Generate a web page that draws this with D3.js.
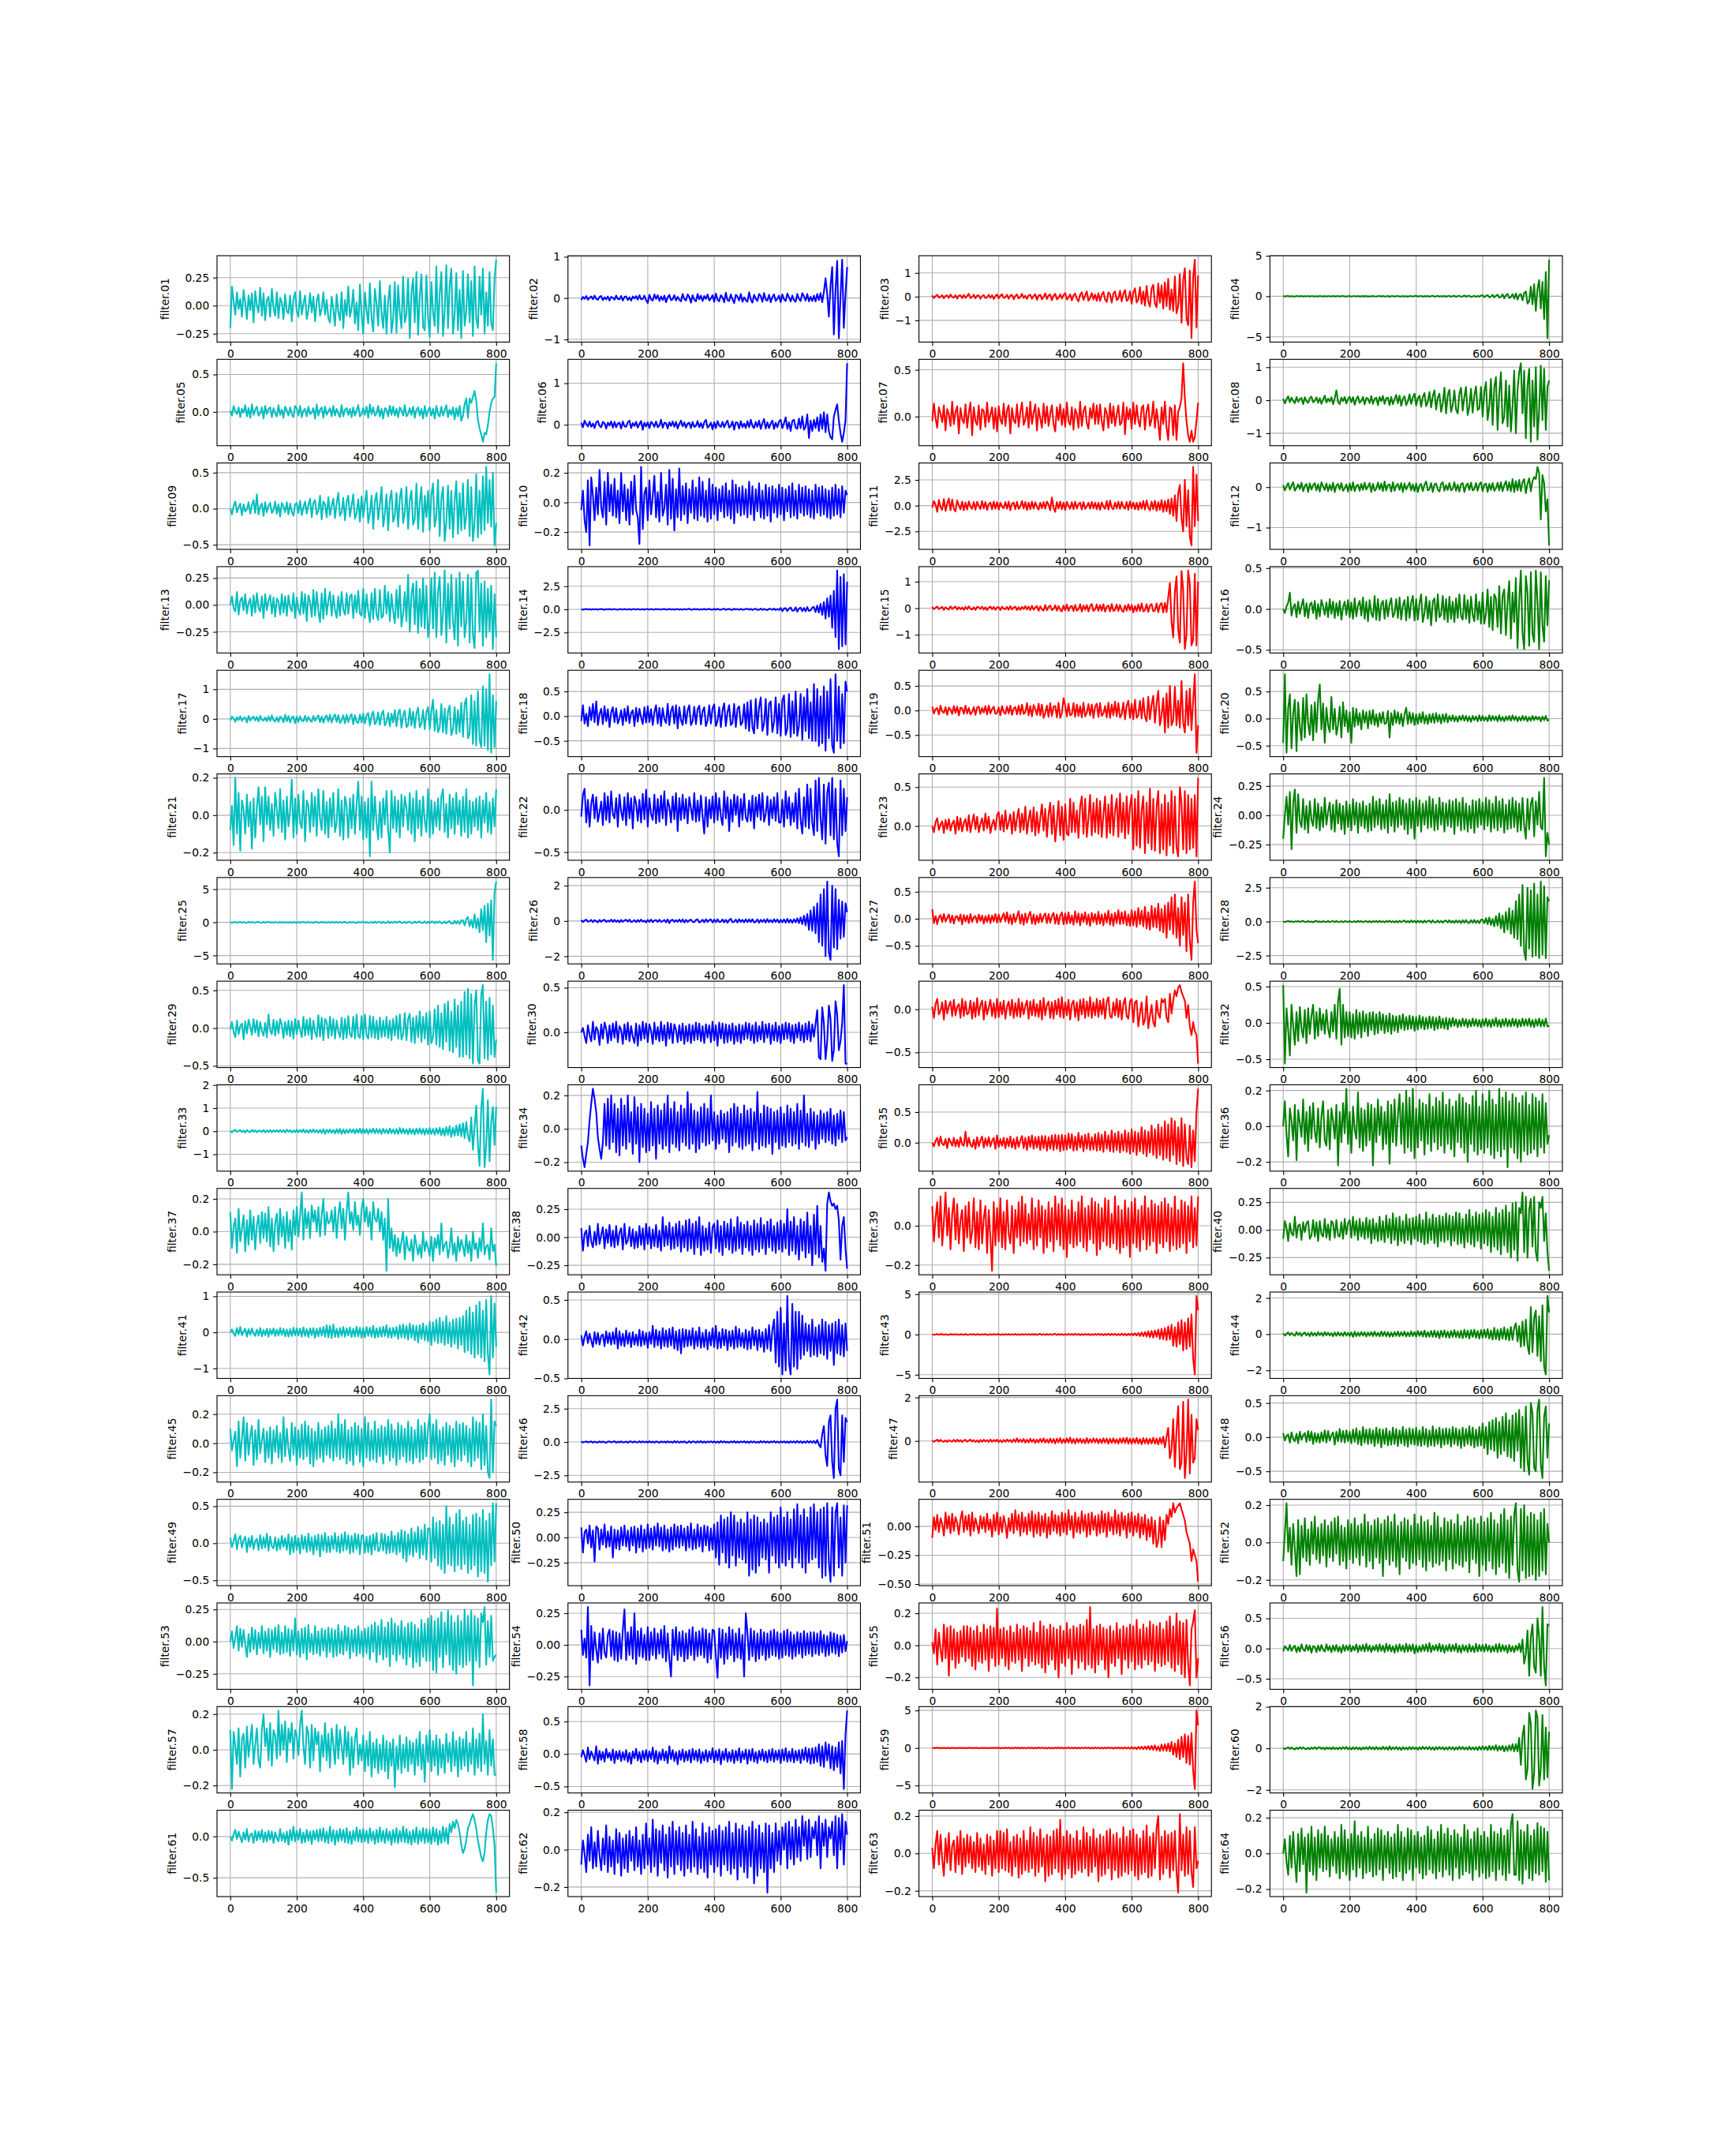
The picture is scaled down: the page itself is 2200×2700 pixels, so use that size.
<!DOCTYPE html>
<html><head><meta charset="utf-8">
<script src="https://cdn.jsdelivr.net/npm/d3@7"></script>
<style>body{margin:0;background:#fff}</style>
</head><body><svg id="c"></svg>
<script>
// Values, in hundredths, one every 5 steps of the index (0..800)
const UNIT = 0.01;
const STEP = 5;
const xTicks = [0, 200, 400, 600, 800];
const colors = ["#00bfbf", "#0000ff", "#ff0000", "#008000"]; // by column

const f01=[-20,17,4,-8,12,-3,6,-10,14,2,-12,9,-4,11,-15,13,0,-6,16,-9,11,-13,5,8,-10,15,-2,-9,12,-11,7,3,-12,10,-5,-7,9,-14,6,12,-5,-10,13,-8,2,9,-12,-4,11,-6,8,-14,4,10,-9,-3,12,-8,5,-11,-15,8,-3,-18,10,-6,-13,12,-20,5,-9,17,-10,-2,14,-16,3,-22,19,-8,-25,12,-4,-16,20,-11,-23,15,2,-18,22,-7,-20,9,-25,4,18,-24,-12,21,-24,18,-6,-20,26,-15,-8,24,-29,12,24,-15,30,-26,8,28,-19,-22,27,-10,-28,21,-6,-18,35,-24,10,30,-27,-5,36,-20,18,33,-25,-8,29,-22,14,-29,31,-18,-6,28,-15,22,-27,35,-12,-20,26,-8,33,-25,12,-18,30,-16,-22,24,41];
const f02=[-5,3,-2,5,-4,1,4,-3,6,-2,-4,3,5,-5,2,-3,4,-6,3,1,-4,6,-2,-3,5,-6,3,4,-5,2,-6,4,-1,5,-4,7,-3,-2,6,-5,-12,8,-3,-6,9,-2,7,-7,4,-5,6,-10,2,8,-5,-3,7,-6,3,-4,-8,10,-2,-6,9,3,-11,7,-4,-8,10,-3,6,-7,5,-2,9,-6,-1,7,-9,11,-4,-8,7,2,-10,13,-5,-7,9,-3,-12,8,4,-6,10,-9,2,-5,-9,14,-3,-11,8,-2,-7,10,5,-9,12,-4,-6,8,-10,3,9,-7,-2,6,-10,9,-3,-7,11,2,-8,6,-5,-9,10,-2,-7,12,4,-6,10,-8,3,-7,6,-8,10,-5,12,-10,15,48,10,-45,30,75,-88,20,90,-97,5,93,-72,10,75];
const f03=[5,-6,2,8,-4,-1,6,-7,3,5,-5,9,-2,-4,6,-8,4,5,-6,7,-5,3,12,-6,-2,8,-7,4,5,-9,2,7,-6,-3,8,-5,6,-10,3,9,-7,4,10,-6,-3,8,-9,5,7,-11,3,9,-8,-2,12,-6,4,-10,6,8,-9,3,10,-13,5,8,-12,-2,14,-10,6,9,-15,3,12,-11,-5,10,-8,7,15,-12,-4,10,-16,6,13,-9,-20,8,18,-14,5,22,-17,-6,15,-12,9,-18,15,-18,8,20,-12,-22,18,10,-25,14,22,-15,-8,25,-20,12,28,-18,-10,22,-30,18,35,-25,-12,40,-30,22,-38,45,-20,-42,35,50,-30,-45,55,-25,48,-50,60,-40,75,-55,30,-60,85,-70,-40,95,-110,70,120,-90,-120,110,-175,80,156,-130,90];
const f04=[3,-2,1,4,-3,2,-1,-4,3,1,-2,4,-3,2,-1,3,-4,2,1,-3,2,-3,4,-1,-2,3,-4,2,1,-3,4,-2,-1,3,-3,2,5,-2,-3,2,3,-4,1,2,-3,4,-2,-1,3,-2,4,-5,2,-3,3,-1,-4,2,4,-3,5,-3,-1,4,-6,2,3,-4,1,5,-3,-2,4,-3,2,-5,3,1,-4,3,7,-4,2,5,-6,3,-2,4,-5,1,6,-4,-2,8,-5,3,-3,5,-6,2,6,-7,3,5,-8,2,6,-5,-3,10,-6,4,7,-8,-2,6,-7,4,-5,8,12,-10,5,15,-12,-4,18,-14,8,20,-16,-8,25,-25,12,30,-22,-10,28,-30,35,-40,15,28,-50,40,60,-90,-60,120,-100,150,-180,90,200,-150,180,-280,300,-516,452];
const f05=[2,-5,8,1,-3,6,-7,4,-1,9,-6,5,-8,10,-4,3,7,-5,-2,6,-9,8,-3,4,6,-7,5,-2,-6,9,-4,3,-8,7,2,-5,6,-3,-7,8,5,-5,8,-7,2,4,-6,7,-3,-1,5,-9,10,-5,3,6,-8,7,-4,1,5,-6,8,-5,4,-2,-7,9,-6,3,5,-4,4,-7,6,-5,2,9,-6,-3,5,-4,7,-8,10,-3,6,-5,-2,8,-6,4,-9,5,3,-6,8,-4,7,-5,4,-7,6,2,-5,9,-6,-3,5,-4,7,-8,3,6,-5,4,-9,8,-6,2,6,-5,4,-9,8,-3,-6,7,-5,2,9,-7,3,-4,6,-10,5,-6,8,-12,-5,10,18,-8,18,12,20,28,15,-10,-22,-30,-40,-28,-30,-18,0,12,18,20,65];
const f06=[5,-6,10,2,-4,8,-5,3,-8,6,9,-3,-6,7,4,-9,5,-2,8,-7,7,-6,3,5,-9,8,-4,-5,6,10,-8,4,-3,7,-7,2,9,-12,5,-4,6,-8,7,3,-5,8,-6,-2,12,-7,5,4,-9,6,-3,8,-5,7,-9,2,10,-4,6,-7,3,5,-8,7,-5,-3,9,-6,4,-8,6,12,-7,-3,5,-11,6,-8,9,-2,-5,7,-6,4,10,-7,-3,8,-12,6,5,-9,9,-6,3,-8,9,-6,12,-3,-8,7,-5,10,-10,4,14,-9,6,-8,3,10,-10,5,-6,8,12,-8,4,18,-10,6,-15,9,12,-7,-10,15,-8,20,-12,-5,25,-32,10,-15,12,-8,18,-15,25,-10,30,-18,25,-15,-30,-35,20,35,49,10,-20,-41,-20,10,148];
const f07=[-5,14,-2,-12,10,3,-6,12,-15,8,2,-10,16,-8,5,11,-18,9,-3,-7,13,-12,4,15,-20,10,-5,-9,12,-14,8,6,-11,15,-6,2,10,-13,9,-16,11,-3,-8,14,-10,7,12,-18,9,-4,-7,13,-11,5,15,-9,-3,10,-12,16,-8,4,13,-15,9,-2,-12,14,-7,11,-10,3,12,-8,-16,10,-4,13,-9,8,-11,15,-5,-9,10,-14,8,3,-12,16,-10,6,11,-7,-13,9,-2,14,-8,12,-8,13,-5,-15,9,4,-12,14,-7,11,-10,2,12,-9,-6,15,-19,10,-3,8,-13,15,-8,12,-4,-11,9,12,-14,6,13,-10,-3,16,-12,8,-6,-25,10,-8,16,-12,-25,10,8,-20,12,-25,5,10,20,57,20,-5,-20,-27,-15,-27,-22,-5,15];
const f08=[5,-10,3,12,-6,8,-2,-9,10,-5,4,7,-12,9,-3,-8,6,11,-6,-2,9,-8,6,-11,2,14,-7,5,-4,9,-12,6,30,-5,-12,8,-3,10,-10,4,11,-6,9,-14,3,12,-8,-2,10,-13,7,5,-9,13,-11,4,8,-15,10,-3,13,-11,6,8,-15,10,-12,3,16,-9,14,-17,5,12,-15,-4,18,-11,8,20,-16,6,14,-20,10,22,-18,-5,25,-22,12,30,-28,8,20,-35,-10,38,-40,15,32,-35,-15,30,-28,-40,20,38,-32,10,40,-45,-20,35,-38,15,42,-30,-25,40,-50,25,55,-60,-20,65,-75,40,70,-90,20,85,-70,-50,60,-80,45,-95,-20,90,-100,30,85,112,-40,90,-115,45,95,-126,60,-80,100,-120,-30,105,-60,95,-90,40,60];
const f09=[0,-8,4,10,-5,2,7,-9,6,-4,-1,9,-7,5,12,-6,20,-8,3,7,-10,9,-5,4,8,-6,-2,10,-7,6,-11,8,3,-5,9,-8,7,-4,-10,6,8,-6,11,-9,2,10,-7,5,14,-12,8,12,-8,-3,18,-15,10,6,-12,16,-9,4,14,-13,7,22,-10,-5,15,-16,9,18,-11,4,20,-14,-6,13,-18,17,-12,8,25,-20,-6,18,-28,10,22,-15,5,30,-25,-8,20,-30,12,25,-18,-10,22,-25,15,28,-20,-5,30,-28,12,25,-22,-15,35,-28,8,30,-32,18,-12,25,-30,20,35,-25,-10,40,-38,15,30,-45,-20,32,-28,25,-40,10,38,-35,22,-30,35,-28,-10,40,-38,30,-45,-20,48,-40,25,-35,45,-30,58,-20,40,-25,50,-51,-20];
const f10=[-5,8,-12,-20,15,-29,17,5,-12,10,-8,22,-3,-10,14,-15,20,-6,12,-9,16,-10,8,-14,20,-6,12,-12,9,-15,14,-8,18,-5,-10,-28,24,-18,6,10,-12,15,-8,4,18,-10,7,-13,20,-9,-4,12,-15,22,-11,16,-19,9,-10,23,-12,11,-8,13,-14,9,-7,15,-11,10,-12,17,-9,14,-10,8,-13,16,-11,12,-8,10,-12,9,-6,11,-10,13,-9,8,-11,15,-14,12,-7,10,-9,11,-8,9,-10,14,-8,11,-12,9,-6,13,-10,8,-11,12,-9,10,-13,11,-7,9,-10,12,-8,10,-12,9,-6,11,-10,13,-9,8,-11,12,-7,10,-9,11,-8,9,-10,8,-11,12,-7,10,-9,11,-8,9,-10,8,-11,10,-9,12,-8,9,-10,11,-7,8,5];
const f11=[-20,45,10,-60,55,-15,-40,65,-50,20,70,-45,60,-30,-55,50,5,-35,40,-45,30,-38,42,-10,-30,35,-40,38,-5,-32,45,-28,36,-42,15,30,-35,40,-30,33,-38,28,-10,-25,35,-30,40,-45,20,30,-35,38,-32,-8,45,-28,36,-42,30,-35,40,-30,33,-12,-38,28,-25,35,-30,40,10,-45,80,-20,-60,35,-28,40,-35,30,-42,38,-5,-30,33,-35,40,-28,15,30,-38,35,-32,-8,28,-30,36,-25,30,-35,28,-40,32,-10,-30,45,-38,50,-20,-35,30,-28,40,-32,38,-15,-30,35,-40,42,-25,30,-35,28,-40,32,-30,45,-38,50,-20,-45,40,-35,48,-50,35,-40,55,-60,45,-55,60,-80,70,-100,100,-150,120,200,-120,-250,250,-200,150,-300,-386,376,-200,300,-150];
const f12=[5,-8,2,10,-6,4,12,-9,-2,7,-5,11,-10,3,8,-12,9,-6,5,10,-8,7,-11,12,2,-7,9,-10,6,-8,11,-12,4,8,-6,10,-9,-3,7,-11,9,-8,12,-10,3,6,-9,8,-7,11,-6,2,10,-12,8,-9,-4,11,-6,9,-10,14,-8,5,7,-11,12,-9,4,8,-7,10,-12,9,-6,3,11,-8,7,-10,9,-12,4,8,-10,6,14,-8,-5,10,-12,7,9,-6,-11,8,12,-9,5,-7,10,-8,-4,12,-9,6,-11,8,10,-12,3,9,-7,11,-8,-5,10,-9,7,12,-10,6,9,-12,8,-7,10,-9,-3,11,-8,12,-10,5,15,-8,12,-10,20,-12,15,-8,18,-10,12,20,-15,8,22,-10,15,25,20,50,35,-80,30,10,-60,-30,-144];
const f13=[0,8,-3,-6,12,-9,4,7,-5,10,-8,2,6,-10,9,-7,11,-3,-6,8,-12,10,-5,4,9,-8,7,-11,6,3,-9,10,-7,8,-10,9,-2,-6,11,-12,7,-4,-9,12,-8,10,-15,9,3,-11,14,-10,12,-6,-16,11,-13,15,-9,4,12,-10,9,-5,-12,8,-10,12,-4,-9,11,-8,8,10,-12,9,-7,13,-8,-10,15,-12,10,-6,-16,11,-13,15,-9,-14,14,-12,-10,18,-8,12,-15,10,-6,-17,14,-12,18,-20,-8,12,-15,28,-25,10,20,-18,22,-26,15,-20,25,-22,18,-30,-15,25,-22,30,-30,12,26,-28,-8,32,-35,20,-22,28,-15,-32,24,-38,30,-20,22,-30,-15,28,-35,25,-28,-40,30,32,-25,20,-38,22,-30,15,-25,18,-41,10,-30];
const f14=[2,-3,1,4,-2,3,-4,2,-1,3,-3,2,4,-2,-3,3,-2,4,-3,1,3,-2,-4,3,2,-3,4,-2,-1,3,-4,2,3,-3,4,-2,-2,3,-4,2,3,-3,4,-2,-3,5,-2,3,-4,2,4,-3,-2,5,-3,2,-4,3,3,-4,3,-5,4,-3,2,6,-4,-3,5,-2,4,-5,3,-3,6,-4,2,5,-3,-3,5,-4,6,-3,-5,4,6,-6,3,5,-4,-5,7,-3,4,-5,6,-4,-3,5,6,-4,5,-7,3,6,-5,-4,8,-6,5,-3,-7,6,4,-5,8,-7,3,-6,15,-20,10,12,-18,8,20,-15,-12,22,-25,10,18,-20,15,-22,25,-18,-10,20,25,-30,40,-35,60,-60,80,-100,120,-80,150,-200,200,-300,420,-430,350,-400,380,-380,300];
const f15=[5,-4,2,6,-3,1,5,-6,4,-2,-5,7,-3,2,6,-5,4,-4,3,-6,5,-4,7,-2,-5,4,-6,5,3,-3,6,-5,4,-7,2,6,-4,5,-6,3,4,-7,6,-2,-4,5,-6,8,-5,3,6,-7,4,-6,5,-3,8,-5,6,-7,9,-6,3,8,-10,7,-4,-9,12,-8,5,10,-7,-3,11,-9,8,-6,-12,10,-8,14,-10,5,9,-11,12,-9,-4,15,-13,10,-6,12,-12,8,16,-11,-5,14,-10,12,-9,15,-13,6,10,-12,16,-11,-6,14,-10,12,-8,-14,10,-9,15,-7,12,-16,8,-11,14,-10,18,-12,-8,15,-14,10,16,-12,-9,18,-15,12,20,-16,20,-15,40,95,-50,-110,60,120,-80,-130,140,70,-154,-100,142,90,-140,-120,130,-140,100];
const f16=[0,-5,3,8,20,-8,2,6,-10,9,-6,4,12,-9,7,-11,5,8,-5,10,-12,6,-9,11,3,-7,8,-10,12,-6,9,-11,7,-8,10,-13,2,9,-7,11,-10,8,-12,13,-9,4,10,-8,14,-12,9,-15,11,-5,-10,16,-13,12,-14,6,10,-12,11,-9,6,13,-10,-5,12,-11,14,-13,4,11,-14,15,-11,8,16,-14,12,-13,7,18,-16,-5,15,-12,10,-20,9,13,-15,18,-10,-7,16,-13,12,-16,15,-12,9,-16,13,-11,18,-9,-13,17,-12,11,-17,15,-7,-15,18,-13,9,-18,20,-18,-6,24,-22,15,-26,18,13,-22,28,-30,16,24,-32,8,34,-36,20,-16,38,-48,10,47,-30,-49,40,20,-45,45,-30,-40,47,10,-49,45,-20,-40,40,-20,35];
const f17=[-5,8,2,-10,6,-4,9,-7,3,5,-12,10,-6,4,8,-5,7,-9,10,-3,-6,5,-8,9,-7,12,-4,-9,6,-10,8,3,-11,14,-8,10,-12,5,9,-15,8,-10,9,-6,-8,11,-9,7,-5,-10,10,-7,6,12,-11,8,-13,5,12,-9,14,-12,6,15,-10,13,-14,-5,12,-15,14,-11,8,16,-18,12,-9,-14,15,-12,18,-15,12,20,-22,10,25,-18,-8,22,-20,15,28,-22,-10,20,-25,18,-12,30,-25,20,32,-30,12,28,-28,-20,35,-22,25,-30,18,38,-28,-15,30,-35,22,40,-35,25,65,-40,30,-45,-30,50,-45,35,-50,25,45,-55,-35,40,-50,30,-45,55,-60,50,70,-65,-50,80,-85,60,-90,95,-70,-95,110,-90,100,-105,151,-114,80,-95,60];
const f18=[-10,22,-15,5,-20,18,-8,25,-12,30,-18,4,15,-16,20,-10,14,-22,8,18,-12,16,-15,-5,12,-18,15,-10,20,-14,6,12,-20,17,-11,15,-3,-16,18,-13,20,-12,14,-18,8,22,-15,17,-20,16,-6,-14,25,-18,10,20,-15,22,-25,18,-8,-18,20,-15,12,22,-18,-10,19,-16,14,21,-17,10,18,-20,-9,22,-15,16,24,-20,-10,18,-22,12,26,-20,8,22,-18,-14,25,-22,15,20,-18,-12,24,-25,28,-30,32,-22,-35,35,-25,18,38,-30,-15,35,-38,25,30,-32,-12,38,-35,25,-40,32,42,-38,-25,45,-42,30,-35,50,-40,-20,45,-48,38,-30,55,-45,28,-50,65,-50,55,-60,40,-55,60,-70,50,-45,75,-60,-74,85,-50,60,-65,45,-55,70,50];
const f19=[8,-6,3,5,-8,10,-2,-5,7,-9,6,2,-7,9,-5,8,-10,6,4,-7,10,-6,5,-8,-3,7,-9,6,8,-7,5,-4,9,-8,10,-6,3,8,-7,-5,6,-10,9,-3,-7,8,-6,10,-9,4,7,-8,10,-8,12,-7,-4,15,-10,9,-12,11,3,-9,14,-10,12,-15,-5,10,-13,15,-11,8,9,-14,16,-15,-6,25,10,-12,14,-10,-8,15,-13,12,-11,9,-14,16,-12,-5,13,-10,12,-15,8,14,-13,15,-11,-6,9,-14,16,-15,12,-10,18,-12,15,-14,-8,16,-18,10,20,-15,14,-18,22,-15,-10,20,-16,25,-12,-22,28,-18,12,30,-25,15,40,-30,-10,25,-45,35,-35,50,-30,-20,48,-30,20,-35,60,-25,-45,40,-30,45,-40,20,74,-86,-30];
const f20=[-45,82,-63,20,45,-55,10,35,-60,30,-15,-40,38,-35,45,-10,-30,25,-40,30,-25,35,63,-20,28,-45,20,-12,-25,40,-20,18,-30,-12,22,-35,30,-14,15,-25,12,-45,20,-15,18,-12,10,-20,15,-8,12,-18,14,-10,16,-12,8,-15,10,-8,12,-10,-8,14,-35,10,-12,15,-8,12,-10,9,-14,8,20,-10,12,-8,10,-12,8,-10,9,-7,12,-9,6,-10,8,-7,9,-8,10,-6,7,-9,8,-6,9,-7,5,-4,6,-5,4,-6,5,-3,6,-4,5,-5,4,-6,5,-3,4,-5,6,-4,5,-4,3,-5,6,-4,5,-3,4,-5,6,-4,3,-5,4,-3,5,-4,6,-3,4,-5,3,-4,5,-3,4,-5,3,-4,5,-3,4,-2,3,-5,4,-3,5,-4,-2];
const f21=[-8,5,-16,20,-10,12,-19,8,3,-10,11,-6,7,-18,9,-12,4,15,-5,10,-14,15,-5,10,-8,6,-11,12,3,-7,14,-9,8,-13,10,-6,2,19,-12,9,-10,11,-4,-7,13,-14,8,5,-9,12,-6,10,-11,14,-2,-8,13,-10,7,-12,9,-6,12,-9,-4,14,-11,8,-13,10,5,-12,9,-7,11,-10,6,18,-8,10,-13,7,-12,9,-22,18,-8,10,-4,-13,7,-12,9,-5,13,-8,-20,13,-7,10,-9,8,-12,11,-6,10,4,-8,12,-10,9,-14,13,-7,8,-11,10,-3,-9,14,-12,8,-10,7,-6,9,-8,10,14,-9,6,-12,11,-7,9,-10,12,-5,8,-11,10,-9,14,-12,8,-10,7,-6,9,-8,10,-12,8,-4,12,-9,7,-10,9,-6,14];
const f22=[-8,18,25,-15,12,-20,8,18,-10,15,-14,-3,10,-18,20,-12,16,-15,22,-5,-10,14,-20,18,-2,-12,15,-18,20,-10,14,-22,16,8,-13,12,-15,19,-11,24,-20,14,-5,-12,18,-16,13,-14,17,-10,22,-18,12,4,-15,16,-11,20,-25,14,-12,18,-10,13,-16,15,2,-12,20,-14,11,-13,17,-8,-28,15,-20,12,-10,16,-15,20,-12,14,-8,-18,22,-10,15,-25,12,-14,18,-6,16,-20,13,-12,19,-9,-14,11,-13,17,-22,15,-8,18,-12,20,-14,-5,16,-18,12,-10,15,-13,20,-15,-15,12,-20,22,-10,15,-18,8,-14,20,-22,25,-12,-28,15,-20,30,-22,25,-15,-30,35,-25,38,-10,-35,30,-40,20,32,-30,38,-35,25,-40,-55,35,-30,25,-25,15];
const f23=[0,-8,5,10,-5,2,6,-9,8,-4,9,-6,3,7,-10,12,-5,10,-7,4,9,-6,14,-8,5,15,-4,12,-8,3,10,-6,16,-3,12,-9,2,8,-5,14,18,-5,14,-7,20,-4,5,15,-10,18,-6,10,22,-8,16,-5,25,-10,8,20,-7,24,-12,18,-9,10,28,-6,22,-14,15,30,-10,26,-20,5,32,-12,25,-18,28,-10,-12,35,-8,30,-8,20,-15,25,38,-10,35,-14,10,40,-12,30,-8,35,-10,32,-14,15,38,-15,28,-9,40,-12,20,35,-14,42,-8,30,-16,38,-10,25,40,-30,35,-25,45,-28,20,38,-35,30,-22,48,-30,35,-32,25,45,-35,28,-30,40,-38,30,-25,45,-35,38,-28,-39,50,30,-30,45,-35,40,-30,35,-28,40,-39,62];
const f24=[-20,0,16,-8,20,-29,10,22,-15,18,-5,-10,14,-12,8,-15,12,-4,-9,14,-11,10,-13,7,-10,15,-8,3,11,-12,9,-14,13,-7,10,-12,8,-16,12,-10,9,-13,14,-8,11,-15,10,-9,12,-11,8,-14,10,-13,16,-10,12,-8,14,-12,9,-11,13,-15,18,-9,11,-14,12,-10,15,-8,13,-12,10,-16,14,-11,12,-20,15,-9,13,-14,10,-8,12,-11,16,-10,14,-13,9,-12,15,-8,11,-14,10,-9,13,-10,12,-16,14,-9,11,-13,15,-12,10,-14,8,-11,13,-15,12,-10,14,-8,11,-12,15,-9,13,-14,10,-11,16,-13,12,-10,14,-15,9,-12,13,-11,15,-10,12,-14,10,-13,15,-9,-20,14,-12,10,15,-18,12,-8,20,-10,-12,32,-35,-15,-25];
const f25=[5,-8,3,6,-5,2,7,-6,4,-3,-7,8,-5,6,-2,-7,5,8,-4,-6,7,-5,3,8,-6,4,-7,6,-2,-5,8,-6,5,-4,3,-8,7,-6,5,2,-7,6,-8,5,7,-5,-3,9,-6,5,-7,4,8,-6,-4,7,-5,6,-9,8,-7,5,3,-6,9,-7,6,-8,4,7,-6,-5,8,-7,6,-4,-9,8,-6,5,10,-8,7,-9,-3,8,-10,12,-9,5,10,-12,8,-11,-6,15,-14,9,-8,12,-10,8,12,-9,-7,10,-12,8,11,-10,-8,13,-11,9,12,-10,-7,14,-12,10,-14,12,10,-15,13,-9,15,-12,-10,14,-16,12,18,-15,-20,25,-18,20,-25,30,30,-45,50,80,-60,40,-80,120,-90,60,-150,200,-120,250,-300,280,-200,330,-568,450,617];
const f26=[5,-6,3,8,-4,-2,6,-7,5,-1,-8,6,-5,4,7,-6,2,-4,8,-6,7,-6,4,-8,6,-5,3,7,-4,8,-6,-3,5,-7,6,-5,8,-4,2,-8,6,-5,8,-7,3,5,-6,7,-5,-2,6,-8,9,-12,4,7,-6,5,-5,8,-6,9,-9,7,-6,4,8,-5,-7,6,9,-9,-3,7,-8,10,-6,5,9,-9,8,-7,10,-6,-4,9,-8,7,-10,6,12,-7,-5,8,-9,10,-6,7,-8,10,-7,9,-6,10,-8,-5,9,-10,7,-6,8,-9,11,-7,6,-8,10,-6,9,-10,7,-8,9,-10,12,-9,8,-11,10,-8,15,-12,20,-18,30,-25,40,-50,60,-55,80,-70,100,-120,150,-140,180,-200,224,-180,-221,200,-150,180,-160,120,-100,110,-90,100,50];
const f27=[18,-8,5,-10,3,7,-6,9,-5,2,8,-7,6,-9,4,5,-4,8,-10,7,-5,6,-8,9,-6,3,5,-7,8,-4,6,-9,5,-6,7,-8,6,-5,9,-7,8,-6,3,10,-5,12,-8,7,-10,9,-6,4,14,-9,8,-11,10,-7,6,13,-9,8,-10,6,-7,9,-6,5,10,-8,9,-7,5,11,-9,8,-10,6,12,-10,10,-9,12,-8,6,-11,14,-7,10,-12,9,-6,12,-10,8,-13,11,-6,9,-10,13,-9,8,-12,10,-7,15,-11,9,-13,11,-8,16,-10,12,-9,14,-12,8,-13,16,-12,14,-15,20,-10,15,-14,22,-18,12,-20,24,-15,20,-16,28,-22,18,-25,25,-35,30,-20,40,-28,45,-35,20,-50,40,-30,30,-60,45,-40,-76,30,69,-20,-45];
const f28=[3,-4,1,5,-2,3,-4,2,-1,4,-3,2,5,-3,-2,4,-3,1,-5,3,4,-3,2,-5,4,-1,-3,5,-4,2,3,-4,5,-2,-3,4,-5,3,2,-4,5,-3,-2,4,-5,6,-3,4,-5,2,3,-4,5,-6,4,-3,5,-4,6,-5,4,-6,5,-3,7,-5,4,-6,5,-7,6,-4,3,8,-6,5,-7,9,-5,6,-8,7,-5,6,-9,8,-6,5,7,-8,9,-6,-5,8,-7,6,-9,5,8,-7,10,-8,6,-10,9,-7,8,-11,10,-9,12,-8,-10,11,-9,12,-10,8,-12,14,15,-12,25,-20,30,-25,20,-35,40,-30,60,-50,45,-80,70,-60,100,-90,80,-120,150,-130,200,-180,270,-220,-283,250,-200,230,-260,280,-250,200,-270,296,-240,260,-270,180,150];
const f29=[-2,8,-5,-12,10,-8,3,6,-15,9,-7,11,2,-9,12,-6,10,-11,8,-4,-10,7,-12,18,-3,-8,11,-10,9,-7,12,4,-13,8,-9,10,-11,9,-14,12,-8,10,-3,-12,15,-10,11,-9,13,-15,10,-5,-12,17,-11,14,-16,12,8,-13,15,-10,12,-14,10,-4,-12,14,-15,12,-13,16,-8,-12,15,-14,18,-10,-13,16,-15,18,-10,-14,16,-12,15,-13,10,-15,14,-12,10,-11,15,-13,10,-16,12,-10,16,-14,18,-15,-8,20,-16,12,19,-18,14,-20,16,-12,22,-18,15,-14,20,-22,22,-20,-12,25,-22,30,-25,20,-28,32,-18,35,-30,22,-32,38,-25,30,-38,35,-38,48,-35,52,-40,45,-47,30,50,-42,-47,45,57,-40,35,-42,40,-35,30,-38,-15];
const f30=[0,5,-4,-12,8,-3,-10,12,-8,6,2,-14,9,-7,11,4,-12,8,-9,10,-6,12,-11,7,3,-13,9,-8,11,-10,7,-5,-12,10,-15,8,-9,12,-7,10,-11,9,2,-13,11,-8,6,-10,12,-9,8,-15,11,-7,10,-12,9,3,-11,8,-9,10,-13,7,-10,9,-12,8,-9,11,-8,10,-10,7,-12,9,-6,8,-11,12,-9,8,-15,11,-7,10,-12,9,-11,8,-9,10,-13,7,-10,9,-12,8,-8,11,-7,10,-9,8,-12,11,-10,7,-8,12,-11,9,-6,10,-13,8,-9,11,-10,7,-12,9,-8,11,-7,10,-10,8,-12,9,-6,11,-9,8,-11,10,-8,12,-10,9,-5,10,25,-28,-30,28,10,-30,-10,30,15,-32,-20,35,20,-20,-10,10,53,-35,-35];
const f31=[3,-10,6,12,-6,-2,8,-12,10,-5,4,9,-8,11,-7,3,6,-10,12,-8,9,-6,-4,10,-11,8,-9,13,-7,5,10,-12,9,-6,2,11,-8,7,-10,12,-9,8,-6,10,-11,3,9,-7,11,-10,7,-8,12,-9,8,-6,4,10,-11,9,-7,11,-8,6,-9,10,-12,13,-7,5,9,-10,8,-11,10,-6,12,-9,14,-10,8,-7,11,-12,6,10,-9,8,-13,11,-6,12,-10,9,-8,14,-10,8,-7,12,-9,10,-6,12,-11,9,14,-8,-10,8,-7,12,-9,10,-12,6,13,-8,-11,9,12,-15,8,10,-20,-5,8,-18,-12,15,-22,-8,5,-15,-20,10,-5,-10,12,8,12,-10,-15,18,-5,10,22,15,25,28,20,15,10,-10,5,-20,-30,-15,-25,-30,-63];
const f32=[52,-56,20,-10,-45,25,-5,-30,15,-25,22,-8,-20,18,-28,20,-15,10,25,-22,15,-18,20,-10,12,-15,18,-8,-20,15,-12,25,-22,30,47,-30,25,-20,15,-18,15,-20,12,-22,18,-15,14,-20,16,-12,12,-18,14,-10,15,-16,12,-14,15,-10,12,-14,10,-12,13,-15,10,-11,9,-13,10,-8,12,-10,8,-9,10,-8,9,-11,8,-9,10,-7,8,-9,7,-8,9,-7,8,-10,7,-8,9,-7,6,-8,7,-9,6,-5,7,-4,5,-6,4,-5,6,-4,5,-6,4,-5,6,-4,5,-5,4,-6,5,-4,6,-5,4,-6,5,-4,7,-5,4,-6,5,-4,6,-5,4,-5,6,-4,5,-6,4,-5,6,-4,5,-4,6,-5,4,-6,5,-4,6,-5,4,-5,6,-5,-4];
const f33=[2,-5,3,6,-3,1,5,-4,3,-6,5,-2,-4,6,-3,4,-5,3,2,-4,6,-5,3,-4,6,-5,4,-3,5,-4,6,-4,5,-6,7,-3,5,-6,4,-5,7,-5,6,-4,8,-6,5,-7,6,-5,8,-6,5,-7,6,-8,9,-12,7,-6,8,-7,6,-10,9,-8,10,-12,8,-10,7,-8,9,-6,8,-10,9,-7,11,-9,10,-8,9,-11,8,-7,12,-9,10,-8,9,-12,11,-8,7,-10,12,-9,8,-11,10,-12,14,-9,11,-10,8,-13,12,-11,9,-14,12,-10,13,-12,10,-15,11,-12,14,-12,10,-15,13,-11,15,-18,12,-20,18,-15,22,-25,15,-20,25,-18,30,-22,35,-30,40,-20,-45,60,-80,20,110,-60,-150,100,184,-156,-60,135,-130,40,105,-60,105];
const f34=[-10,-18,-23,-15,-8,5,15,24,18,10,-5,-12,-18,-8,15,-10,18,-12,20,-8,15,-14,12,-16,18,-10,14,-12,20,-8,10,-15,19,-9,13,-20,15,-11,12,-14,9,-13,16,-10,12,-18,14,-9,11,-12,15,-10,20,-14,12,-9,16,-11,10,-13,14,-8,12,-10,22,-12,15,-9,11,-14,10,-12,13,-8,15,-10,12,-9,20,-7,10,-12,8,-9,11,-6,9,-8,10,-14,12,-10,15,-8,13,-11,9,-12,14,-10,11,-9,12,-13,10,-8,22,-12,9,-10,14,-11,13,-9,12,-15,10,-8,11,-12,13,-10,9,-11,14,-8,12,-10,10,-9,15,-12,11,-8,20,-10,9,-11,12,-7,10,-12,8,-9,11,-6,9,-8,10,-7,12,-9,8,-10,9,-6,11,-8,10,-7,-5];
const f35=[0,-6,3,8,-5,10,-2,-4,6,-9,7,2,-5,8,-6,5,-7,9,-3,-5,18,-6,8,-3,-7,5,-10,9,-6,4,10,-8,7,-5,9,-6,3,8,-10,12,-7,6,-5,8,-9,7,-6,10,-8,6,-10,9,-7,4,11,-9,8,-12,10,-7,12,-10,9,-8,10,-12,11,-9,11,-13,9,-10,12,-12,13,-10,12,-14,13,-12,12,-11,15,-9,14,-13,10,-12,16,-8,11,-14,13,-10,15,-12,9,-11,14,-13,16,-12,13,-15,18,-10,12,-14,20,-15,15,-12,18,-16,14,-13,20,-15,16,-18,22,-15,18,-20,16,-14,25,-18,20,-22,18,-16,28,-20,22,-25,30,-20,25,-28,35,-25,30,-30,40,-20,35,-35,25,-30,40,-38,30,-25,-35,28,-40,20,-30,50,88];
const f36=[0,14,-5,-17,10,3,-8,12,-19,9,2,-6,15,-10,8,-14,11,-7,13,-3,-9,10,-12,6,14,-8,-11,9,-13,10,3,-7,12,-22,8,-9,13,-4,21,-10,8,-15,11,-2,-7,19,-12,10,-14,9,-11,13,-8,12,-22,10,-9,15,-5,11,-13,8,-10,14,-21,12,-9,15,-11,6,18,-10,13,-15,20,-12,16,-14,21,-18,10,-12,15,-8,13,-16,12,-10,18,-14,11,-9,16,-13,14,-11,19,-15,12,-10,15,-13,11,-17,14,-9,18,-12,16,-15,13,-20,12,-10,17,-14,20,-16,11,-13,18,-15,14,-12,20,-16,15,-18,12,-14,21,-17,16,-13,19,-23,14,-12,18,-15,16,-18,13,-20,17,-14,19,-16,12,-15,18,-13,16,-17,14,-12,18,-15,13,-10,-5];
const f37=[12,-10,3,8,-13,14,-6,2,10,-12,7,-8,13,-5,9,-11,4,10,-7,12,-4,11,-6,15,-9,8,-12,5,11,-8,14,-3,9,-10,12,-6,7,-11,13,-2,15,-3,10,24,-5,14,2,12,-4,16,6,13,0,15,-3,10,20,-2,12,5,6,13,0,15,-4,10,18,2,14,-5,12,24,5,12,1,18,4,10,-2,14,20,6,15,3,12,-5,18,8,6,14,0,12,-5,8,-24,20,-10,2,-12,-2,-15,-4,-13,-6,0,-17,-3,-10,-12,-5,-18,-2,-8,-14,-8,-16,0,-12,-6,-10,-15,-3,-18,-4,-10,-2,-14,5,-12,-8,-6,-16,-10,2,-14,-7,-18,-3,-12,-5,-9,-15,-2,-13,-6,-18,0,-11,-7,-16,-4,-12,5,-14,-9,-8,-17,2,-12,-8,-21];
const f38=[8,-12,3,6,-8,10,-4,-9,5,-7,12,-6,2,9,-10,7,-5,11,-8,6,-9,10,-7,4,8,-11,12,-6,-3,9,-8,7,-10,5,-9,10,-7,8,-11,12,-6,9,-10,7,-8,11,-9,6,-12,18,-8,10,-7,13,-11,9,-10,12,-8,14,-13,10,-9,15,-12,16,-10,12,-15,14,-9,18,-16,10,-12,8,-11,13,-14,9,12,-10,15,-13,10,-16,14,-9,12,-11,16,-14,9,-12,18,-10,13,-15,11,-9,14,-12,10,-16,15,-11,12,-13,17,-10,11,-15,14,-9,16,-12,10,-14,13,-11,15,-13,12,-10,25,-16,14,-12,18,-15,10,-20,16,-12,14,-18,22,-14,10,-25,20,-15,28,-18,10,-22,-10,-30,30,40,32,28,30,25,28,15,-20,10,18,-10,-28];
const f39=[10,-8,4,12,-6,15,-10,2,17,-5,9,-12,6,14,-7,11,-9,3,8,-13,10,-6,12,-9,-3,14,-11,7,-12,13,-9,4,10,-14,8,-6,-23,12,-10,9,-8,14,-11,7,-12,13,-4,-9,10,-14,8,-6,12,-10,15,-8,11,-9,6,-7,14,-12,9,-10,13,-6,10,-14,8,-11,12,-8,9,-13,15,-7,11,-10,14,-12,10,-16,8,-9,13,-11,7,-10,12,-8,15,-11,9,-13,10,-7,14,-9,12,-15,11,-12,9,-8,14,-10,13,-11,6,-9,15,-12,10,-14,8,-11,13,-10,9,-16,12,-9,14,-11,8,-13,10,-7,15,-12,9,-10,13,-8,11,-14,10,-9,12,-11,14,-8,11,-13,9,-10,15,-12,8,-11,13,-9,12,-14,10,-8,15,-11,9,-10,15];
const f40=[-8,8,2,-10,6,-3,-5,12,-7,4,5,-9,7,-2,6,8,-8,-5,9,-6,7,-10,8,-4,-6,10,-7,5,-9,8,6,-7,9,-5,-6,7,-8,10,-4,6,9,-7,12,-5,8,-9,10,-6,7,-8,11,-7,9,-12,10,-8,6,-10,12,-9,8,-11,13,-7,10,-12,15,-9,11,-14,12,-10,8,-12,14,-9,10,-13,11,-8,12,-10,14,-11,9,-13,16,-12,10,-9,14,-12,11,-15,13,-10,12,-11,15,-9,13,-14,12,-10,16,-13,15,-12,10,-16,14,-11,18,-13,12,-15,16,-10,14,-17,15,-12,18,-14,16,-20,12,-15,20,-18,15,-22,18,-14,22,-20,16,-25,24,-18,25,-28,20,15,34,-20,30,-25,18,28,-15,30,-20,-28,25,20,30,-10,15,-20,-37];
const f41=[0,8,-4,-10,12,-6,15,-8,3,10,-12,9,-7,11,-3,-10,8,-9,12,-11,7,-8,10,-12,9,-6,11,-10,8,-9,12,-7,10,-11,8,-12,9,-10,13,-8,11,-9,10,-12,14,-10,9,-13,11,-8,12,-15,10,-11,13,-9,15,-12,20,-14,18,-16,22,-13,10,-14,12,-10,15,-12,11,-9,14,-13,10,-12,16,-11,13,-15,12,-14,15,-10,13,-12,18,-15,11,-13,14,-12,16,-10,20,-14,12,-15,13,-11,15,-18,20,-14,22,-16,18,-20,25,-15,20,-22,18,-28,20,-18,25,-22,18,-25,30,-35,28,-25,35,-30,40,-28,30,-35,45,-30,28,-40,35,-32,38,-45,40,-35,45,-55,60,-50,70,-60,55,-70,75,-60,85,-70,60,-80,90,-60,-117,101,-70,80,-40];
const f42=[5,-8,3,10,-5,7,-2,-10,9,-6,8,-7,4,6,-9,10,-5,8,-7,9,-6,14,-12,10,-8,7,-9,11,-6,8,-10,9,-7,6,-8,12,-9,10,-7,8,-11,9,-6,17,-10,12,-8,10,-12,14,-9,11,-10,13,-8,15,-12,10,-14,12,-18,13,-10,12,-9,11,-8,14,-12,10,-9,15,-11,8,-10,12,-13,9,-8,14,-10,17,-12,9,-11,13,-8,12,-14,10,-9,11,-12,16,-10,13,-9,8,-11,12,-13,10,-12,15,-8,11,-14,12,-10,9,-16,13,-12,18,-15,12,25,-30,35,-35,40,-45,20,-40,55,-30,-45,45,-35,35,-38,35,-25,30,-20,20,-15,18,-22,25,-20,15,-22,18,-18,25,-20,22,-25,18,-15,20,-33,22,-18,25,-20,18,-22,20,-15];
const f43=[3,-4,1,5,-3,2,4,-5,3,-2,-4,5,-2,3,-3,4,-5,2,3,-4,5,-3,-2,4,-3,5,-4,2,3,-5,4,-3,5,-4,-2,3,-4,5,-3,2,4,-5,3,-4,6,-3,5,-6,4,-3,5,-5,3,-4,6,-5,4,-3,5,-6,6,-4,5,-6,3,7,-5,4,-6,5,-4,6,-5,3,7,-6,5,-4,6,-5,6,-5,7,-4,5,-6,8,-5,6,-7,5,-6,7,-4,6,-8,5,-6,7,-5,8,-6,7,-9,6,-7,10,-8,9,-6,8,-10,7,-9,11,-8,10,-12,9,-10,12,-10,15,-12,20,-18,25,-20,30,-25,40,-35,45,-40,50,-30,60,-55,70,-60,80,-70,100,-60,120,-140,90,-150,150,-120,180,-200,150,-180,200,-150,250,-300,-497,478,300];
const f44=[5,-8,2,10,-6,7,-3,-9,12,-5,8,-10,4,9,-7,6,-11,10,-8,7,-9,11,-6,8,-10,12,-7,9,-8,6,-12,10,-9,11,-8,7,-10,12,-9,8,-11,10,-15,14,-12,9,-10,12,-8,11,-13,10,-9,12,-11,14,-10,8,-12,15,-10,13,-12,11,-14,9,-13,12,-10,15,-12,11,-9,14,-13,10,-12,16,-11,12,-14,18,-10,15,-13,20,-16,12,-14,18,-15,20,-17,16,-22,19,-14,21,-18,15,-20,18,-15,22,-17,16,-20,19,-22,25,-18,20,-24,22,-16,25,-20,18,-25,22,-20,25,-18,28,-25,20,-30,35,-28,25,-32,30,-25,38,-30,28,-35,40,-32,35,60,-40,45,-70,70,-65,80,-60,-110,150,-100,90,130,-120,100,-150,160,-180,-223,211,120];
const f45=[10,-5,2,8,-16,15,-10,3,18,-12,14,-8,5,12,-15,9,-11,16,-7,2,10,-13,8,-10,11,-14,9,-6,12,-10,7,-13,18,-9,10,-4,-12,14,-8,11,-15,9,-10,13,-11,15,-9,12,-14,10,-16,8,-11,14,-10,9,-13,11,-8,12,-10,15,-12,10,-9,20,-11,13,-10,16,-14,9,-12,11,-15,14,-8,12,-13,10,-16,18,-10,14,-12,9,-11,15,-13,10,-9,12,-14,11,-8,16,-12,13,-10,9,-15,14,-11,12,-9,10,-13,15,-12,11,-14,9,-10,16,-13,12,-11,14,-9,10,20,-11,13,-10,16,-14,9,-12,11,-15,14,-8,12,-13,10,-16,15,-11,13,-12,14,-8,12,-13,10,-16,18,-12,15,-10,14,-18,20,-15,12,-20,-24,30,-20,15,12];
const f46=[3,-4,1,5,-3,2,4,-5,3,-2,-4,5,-3,4,-2,-5,3,4,-3,2,6,-5,3,-4,5,-3,-2,4,-6,5,3,-4,5,-2,-3,6,-4,5,-3,4,-5,6,-4,3,-5,4,2,-6,5,-3,4,-5,6,-4,3,-5,7,-4,5,-6,4,-3,6,-5,-4,7,-6,5,3,-5,6,-4,7,-5,4,-6,5,-3,6,-4,5,-6,4,-5,7,-4,6,-5,3,-6,5,-4,7,-5,4,-6,5,-3,6,-5,4,-7,6,-4,5,-6,3,-5,7,-4,6,-5,4,-6,5,-3,7,-5,4,-6,5,-4,6,-5,4,-7,6,-4,5,-6,8,-5,6,-7,4,-6,8,-5,7,-6,8,-10,15,-20,-40,60,120,-100,-180,150,200,-150,-271,250,318,-200,-250,200,-150,180,150];
const f47=[2,-4,1,6,-3,5,-2,-4,3,-5,4,-1,-3,5,-4,6,-3,4,-5,3,5,-4,2,6,-3,4,-5,3,-6,5,-4,6,-3,4,-5,7,-4,5,-3,6,-5,4,-6,5,-4,7,-3,5,-6,8,-5,12,-6,7,-5,9,-8,6,-7,10,-5,8,-9,6,-7,10,-6,12,-8,7,-9,11,-8,9,-12,10,-7,13,-10,8,-9,12,-8,15,-10,9,-12,11,-7,10,-9,8,-11,13,-10,9,-8,12,-7,10,-11,9,-10,12,-8,11,-13,10,-9,12,-10,8,-12,11,-9,13,-10,15,-12,10,-13,11,-10,14,-12,9,-15,13,-11,12,-14,10,-12,15,-13,11,-16,14,-12,20,-30,20,60,-80,-40,100,-120,50,160,-130,-100,180,-171,-60,190,-150,120,-100,-80,100,50];
const f48=[6,-5,2,4,-8,7,-3,-6,5,-9,8,-4,3,6,-7,9,-5,8,-10,6,-7,5,-8,7,-6,10,-8,9,-5,3,7,-11,8,-6,12,-7,9,-8,10,-6,8,-9,11,-7,13,-10,9,-12,15,-8,11,-10,12,-9,10,-13,14,-9,12,-15,11,-10,13,-12,9,-11,14,-10,12,-13,10,-9,15,-12,11,-14,13,-10,12,-11,14,-12,10,-13,15,-11,12,-14,10,-12,16,-13,11,-10,14,-15,12,-11,13,-10,12,-14,15,-10,13,-12,11,-16,14,-13,12,-10,16,-12,14,-15,11,-13,15,-12,20,-16,15,-25,22,-18,25,-20,28,-30,22,-25,30,-20,35,-28,25,-30,32,-35,35,-20,40,-45,30,-50,45,-35,-55,50,35,-45,-50,40,55,-40,-60,30,45,-30,20];
const f49=[8,-5,3,12,-8,6,10,-6,4,9,-12,7,-5,10,-8,3,6,-9,11,-7,8,-6,13,-10,9,-4,-7,8,-10,6,-8,10,-5,7,-9,12,-15,8,-12,10,-9,7,-14,11,-8,9,-12,13,-10,8,-15,10,-9,12,-18,11,-10,14,-12,9,-12,10,-8,14,-11,9,-13,12,-10,15,-9,11,-14,10,-12,13,-8,12,-15,10,11,-13,9,-12,10,-15,12,-9,14,-11,-8,13,-10,12,-14,9,-13,16,-12,10,-15,14,-12,18,-20,16,-25,12,-15,20,-18,15,-12,22,-20,18,-15,25,-22,20,20,-25,35,-20,28,-30,30,-35,25,-40,50,-28,35,-30,25,-38,40,-30,45,-35,30,-28,35,-40,25,-35,38,-30,40,-45,35,-38,45,-40,30,-52,40,-30,54,-25,54];
const f50=[10,-15,5,8,-6,12,-10,7,-24,11,9,-12,8,-7,13,-10,6,-9,11,-20,8,-11,7,-12,10,-8,12,-9,7,-13,10,-8,11,-15,9,-10,12,-14,8,-11,13,-10,9,-12,11,-8,14,-9,10,-13,12,-11,8,-14,10,-12,13,-9,11,-10,12,-8,9,-13,11,-10,14,-12,8,-11,13,-9,10,-14,12,-8,11,-13,9,-12,13,-20,15,-27,22,-15,18,-25,20,-30,25,-18,22,-28,15,-20,18,-22,14,-25,25,-38,18,-32,22,-35,20,-28,15,-20,18,-22,14,-35,25,-18,20,-25,22,-30,30,-25,20,-28,25,-22,18,-30,28,-20,33,-25,22,-30,28,-35,20,-25,30,-22,33,-20,25,-30,28,-40,30,-38,34,-25,-44,30,-38,25,34,-30,20,-38,32,-25,32];
const f51=[-10,8,-3,10,-5,7,2,-8,12,-2,9,-6,11,-4,8,3,-7,6,13,-5,9,-3,10,-8,12,-4,7,1,-6,9,-2,8,-5,11,-3,6,-9,10,-4,12,-7,8,-5,9,2,-10,7,-4,11,-6,14,-3,10,-8,12,-5,8,-7,11,-4,13,-9,10,-6,12,-8,9,-5,11,-10,8,-7,13,-4,10,-6,9,-8,12,-5,11,-7,14,-3,9,-10,12,-5,8,-6,13,-4,10,-9,11,-7,12,-3,9,-8,10,-6,13,-5,11,-9,12,-4,8,-7,14,-6,10,-8,12,-3,9,-10,11,-5,12,-8,9,-5,11,-10,8,-7,10,-12,6,-9,8,-15,5,-18,-12,8,-18,5,-12,10,2,15,8,20,12,16,18,20,15,10,5,-5,-10,-15,-30,-20,-25,-30,-48];
const f52=[-10,5,21,-5,8,-12,10,-3,-18,12,-17,9,-8,13,-10,7,-12,11,-6,14,-9,8,-11,10,-7,12,-13,9,-8,11,-10,13,-6,14,-12,9,-10,8,-14,12,-9,10,-11,13,-8,9,-12,10,-7,15,-13,11,-10,9,-14,12,-8,13,-11,10,-18,12,-9,14,-12,11,-10,15,-13,9,-17,11,-8,13,-10,12,-14,9,-11,15,-12,10,-9,14,-13,11,-15,12,-10,9,-13,16,-11,14,-12,8,-10,13,-15,11,-9,12,-14,10,-11,15,-12,9,-13,11,-10,14,-16,12,-9,13,-11,10,-18,14,-12,11,-15,13,-10,16,-14,12,-17,10,-13,15,-11,18,-16,12,-19,14,-12,15,21,-15,-21,18,-15,20,-19,14,-18,16,-17,15,-20,12,-18,16,-15,18,-17,10,0];
const f53=[0,8,-5,3,12,-7,10,-4,9,-2,-12,6,-8,11,-6,9,-10,7,-5,12,-9,8,-7,10,-12,9,-6,11,-8,13,-10,7,-9,12,-8,10,-11,9,-7,18,-10,8,-12,10,-9,11,-14,13,-8,6,-10,12,-9,8,-11,10,-7,9,-12,11,-8,10,-12,9,-11,13,-9,8,-10,12,-7,11,-13,9,-8,10,-11,12,-9,8,-12,10,-9,11,-14,13,-8,15,-16,12,-10,17,-14,11,-12,15,-19,18,-10,14,-15,12,-10,16,-13,11,-18,14,-12,15,-20,13,-16,10,-19,17,-12,14,-15,18,-15,20,-22,16,-24,18,-12,23,-20,15,-10,24,-18,20,-22,15,-25,20,-18,16,-20,25,-18,20,-15,24,-34,20,-15,18,-20,22,15,27,-18,16,-12,20,-15,-12,-10];
const f54=[12,-8,5,-10,30,-32,15,-12,10,-4,-14,9,-11,13,-6,-10,8,12,-9,11,-12,10,-13,9,-11,12,28,-12,10,-8,14,-11,25,-15,11,-9,13,-10,8,-12,14,-12,10,-8,13,-11,9,-7,12,-10,15,-13,9,-11,-25,12,-8,14,-12,10,-9,11,-13,9,-11,12,-8,14,-12,10,-9,11,-8,13,-10,12,-14,9,-11,12,11,-9,-26,13,-10,12,-15,9,-11,14,-8,12,-13,9,-10,13,-11,8,-25,25,10,-12,13,-9,11,-13,9,-11,12,-8,10,-12,9,-10,11,-8,12,-9,10,-11,9,-10,11,-8,12,-9,10,-11,8,-9,10,-7,9,-10,11,-8,9,-7,10,-9,10,-7,9,-8,11,-6,8,-9,7,-8,10,-6,9,-7,8,-9,7,-6,8,-5,3];
const f55=[2,-5,10,-12,8,-3,-10,13,-8,11,-19,12,-9,10,-14,8,-11,9,-7,12,-10,12,-8,11,-13,9,-15,12,-10,8,-11,13,-9,10,-16,12,-8,11,-13,23,-12,10,-8,11,-13,9,-15,12,-10,8,-11,13,-9,10,-16,12,-8,11,-13,9,-10,14,-12,8,-11,15,-14,12,-17,10,-12,13,-9,11,-15,10,-20,12,-11,9,-13,14,-8,10,-18,12,-9,11,-14,13,-10,12,-15,16,-12,24,-14,10,-17,12,-12,13,-9,11,-15,10,-20,12,-11,9,-13,14,-8,10,-18,12,-9,11,-14,13,-10,12,-15,16,-12,10,-14,13,-9,11,-12,15,-10,13,-16,12,-11,14,-13,10,-12,15,-10,18,-14,12,-16,20,-12,15,-18,14,-20,16,-12,-25,10,15,22,-20,-8];
const f56=[-5,4,1,-3,6,-4,2,5,-6,3,-5,7,-2,-4,6,-3,5,-7,4,3,-6,5,-4,6,-2,-5,7,-3,4,-6,5,-4,6,-5,3,-7,6,-4,5,-3,6,-5,4,-3,7,-6,5,-4,6,-5,8,-4,5,-6,4,-3,6,-5,7,-4,5,-6,8,-4,6,-5,4,-7,6,-5,7,-4,5,-6,8,-5,6,-4,7,-8,5,-6,4,-5,6,-4,7,-5,9,-6,5,-3,6,-4,8,-5,6,-7,5,-4,7,-5,6,-4,8,-6,5,-7,6,-4,5,-6,7,-5,4,-6,8,-5,6,-4,6,-5,7,-4,5,-6,4,-5,7,-6,8,-5,6,-4,5,-7,6,-5,4,-6,5,-3,8,-6,15,-25,-10,30,-45,20,40,-30,-40,50,20,-45,69,-30,-61,40,38];
const f57=[11,-22,10,2,-8,12,-15,6,9,-10,13,-4,5,14,-8,3,12,-6,-10,11,20,2,12,-6,15,-9,11,8,-5,22,-3,14,0,16,-7,12,4,15,-5,11,8,-3,14,22,2,-8,13,9,-10,14,-6,12,3,10,-12,8,-4,15,-6,9,-10,12,3,-8,14,-5,11,2,-8,13,-4,10,-14,7,-10,6,12,-8,3,-6,8,-12,5,-9,10,-15,4,-10,6,-13,3,-11,8,-12,5,-16,4,-9,6,-21,2,-11,8,-13,3,-10,7,-12,5,-8,4,-14,6,-9,10,-11,3,-18,8,-7,11,-12,5,-9,8,-14,6,-10,3,-13,9,-7,4,-12,10,-9,5,-15,7,-11,6,-9,10,-12,4,-8,12,-14,6,-10,9,-12,20,-8,5,-14,11,-9,6,-14,-14];
const f58=[-5,6,-2,-12,10,-8,4,-3,-10,12,-15,5,-9,3,-12,8,-6,2,-10,7,-14,4,-8,5,-11,3,-9,6,-12,2,-15,4,-7,8,-10,3,-13,5,-9,6,-11,4,-8,10,-12,5,-15,3,-9,7,-10,4,-14,12,-8,6,-11,3,-16,5,-9,7,-12,4,-10,6,-13,8,-9,5,-11,7,-14,3,-10,6,-12,4,-8,9,-13,5,-10,7,-16,4,-9,8,-12,3,-11,6,-14,5,-10,9,-13,4,-8,7,-15,6,-10,8,-12,3,-14,5,-9,7,-11,4,-13,6,-10,8,-12,5,-9,6,-14,7,-10,9,-12,4,-11,8,-13,5,-10,6,-14,7,-9,10,-12,8,-15,9,-14,10,-12,15,-18,12,-20,18,-10,15,-22,12,-25,10,-20,18,-30,20,-54,30,67];
const f59=[3,-2,1,4,-3,2,-2,3,-4,2,1,-3,4,-2,3,-4,2,-1,3,-3,2,-3,4,-2,3,-4,1,3,-2,-3,4,-2,3,-4,2,-3,5,-3,4,-2,4,-5,3,-4,5,-3,4,-5,3,-4,5,-3,4,-6,5,-4,3,-5,6,-4,5,-6,4,-5,7,-4,6,-5,4,-7,6,-5,3,-6,5,-4,7,-5,4,-6,6,-5,8,-6,4,-5,7,-6,5,-8,6,-4,7,-5,6,-7,5,-6,8,-5,6,-7,5,-8,7,-6,8,-5,6,-9,7,-6,8,-7,6,-9,10,-8,7,-10,12,-10,9,-15,14,-12,18,-16,20,-15,25,-22,30,-25,35,-30,20,-40,45,-35,50,-40,60,-45,80,-90,60,-120,110,-150,150,-120,180,-200,160,-220,200,-300,-547,499,300];
const f60=[2,-4,1,5,-3,4,-2,-5,3,-4,6,-3,5,-2,-4,3,-5,4,-3,6,-4,3,5,-3,4,-6,5,-3,4,-5,6,-4,3,-5,5,-4,6,-3,7,-5,4,-6,5,-4,6,-5,4,-7,5,-4,6,-5,8,-4,5,-6,7,-5,4,-6,8,-5,6,-7,10,-6,5,-4,7,-6,5,-8,6,-5,4,-6,7,-5,6,-4,5,-7,6,-5,8,-4,6,-5,7,-6,5,-8,6,-5,7,-4,6,-7,5,-6,7,-5,6,-8,5,-6,8,-5,7,-6,5,-7,8,-6,5,-7,6,-9,8,-6,10,-6,8,-9,12,-7,10,-8,15,-12,10,-8,12,-15,10,-12,15,-10,20,-15,20,-15,50,-80,60,110,-150,-100,170,120,-196,-120,182,150,-180,-100,160,-150,100,-140,80];
const f61=[0,-5,3,8,-3,6,-1,-7,5,-4,9,-6,2,4,-8,7,-5,6,-3,8,-7,5,-6,7,-4,6,-8,5,-2,-6,9,-5,4,-7,6,-10,8,-5,12,-6,7,-4,9,-8,5,-7,8,-5,6,-9,7,-4,8,-6,9,-5,10,-7,6,-8,12,-6,8,-10,7,-6,9,-5,8,-7,10,-8,6,-9,7,-5,11,-6,8,-7,9,-6,7,-8,10,-5,6,-9,8,-7,11,-6,7,-8,9,-5,6,-10,8,-7,10,-8,7,-6,12,-7,9,-8,6,-10,8,-7,11,-9,7,-6,10,-8,9,-7,8,-9,11,-6,9,-10,7,-8,12,-6,10,-9,15,5,18,10,20,15,5,-10,-20,-15,-5,10,15,22,27,20,10,-5,-15,-25,-30,-20,5,20,27,25,10,-10,-68];
const f62=[-8,5,-2,-12,8,-6,12,-10,4,-9,10,-3,-11,6,-8,13,-12,7,-9,5,-13,11,-7,9,-14,6,-10,8,-12,10,-6,7,-11,12,-9,5,-13,8,-10,14,-8,6,-12,16,-9,11,-14,10,-7,13,-11,8,-15,12,-9,15,-13,10,-8,12,-11,9,-14,13,-10,8,-12,15,-9,11,-13,7,-10,14,-12,9,-15,12,-8,10,-12,11,-9,13,-14,10,-8,12,-11,15,-13,9,-10,14,-16,11,-9,13,-12,10,-15,12,-9,15,-18,11,-14,13,-10,9,-12,14,-23,13,-10,9,-12,14,-6,10,-8,12,0,14,-10,15,-5,12,-8,16,-4,12,-6,18,2,15,-5,16,-4,12,6,15,-3,18,-10,14,2,16,-4,12,6,15,-3,18,-10,17,0,19,-8,15,8];
const f63=[3,-8,5,12,-6,10,-3,-12,8,-5,11,-9,4,7,-10,9,-6,12,-11,8,-7,10,-5,9,-8,6,-10,11,-7,8,-9,5,-11,10,-6,9,-12,7,-8,12,-10,12,-8,11,-9,13,-10,6,-12,9,-7,10,-13,8,-11,12,-9,7,-10,14,-8,11,-12,9,-10,13,-7,8,-15,10,-12,9,-11,12,-8,13,-10,18,-14,9,-11,12,-8,10,-13,8,-11,12,-9,7,-10,14,-8,11,-12,9,-10,13,-7,8,-15,10,-12,9,-11,12,-8,13,-14,10,-9,11,-13,8,-12,14,-10,9,-11,12,-9,13,-12,10,-14,8,-11,12,-10,15,-13,9,-12,11,-8,14,20,-14,9,-11,12,-8,10,-13,11,-9,12,-10,-21,21,-9,10,-12,14,-11,12,-10,-18,14,-8,-4];
const f64=[0,8,-5,-12,10,-8,12,-3,-16,11,-10,14,-6,9,-22,11,-10,15,-12,9,-15,13,-8,11,-10,15,-9,10,-13,8,-7,12,-11,9,-14,16,-10,13,-12,8,-15,11,-9,18,-13,10,-8,12,-14,9,-11,15,-10,8,-13,11,-12,14,-9,13,-15,10,-8,12,-11,9,-14,11,-13,16,-10,12,-15,9,-11,14,-9,13,-15,10,-8,12,-11,9,-14,10,-12,15,-9,13,-11,8,-14,12,-10,16,-13,11,-9,14,-12,10,-15,13,-8,11,-14,9,-12,16,-10,13,-11,8,-15,12,-9,14,-13,10,-11,12,-14,9,-13,16,-10,12,-15,11,-9,14,-12,10,-15,13,-11,16,22,-12,-12,18,-15,13,-17,12,-9,16,-14,10,-15,13,-11,17,-12,15,-10,14,-16,12,-15];

const series=[f01,f02,f03,f04,f05,f06,f07,f08,f09,f10,f11,f12,f13,f14,f15,f16,f17,f18,f19,f20,f21,f22,f23,f24,f25,f26,f27,f28,f29,f30,f31,f32,f33,f34,f35,f36,f37,f38,f39,f40,f41,f42,f43,f44,f45,f46,f47,f48,f49,f50,f51,f52,f53,f54,f55,f56,f57,f58,f59,f60,f61,f62,f63,f64];
const labels = series.map((_, i) => "filter." + String(i + 1).padStart(2, "0"));

const yTicks=[
[-0.25,0,0.25],[-1,0,1],[-1,0,1],[-5,0,5],
[0,0.5],[0,1],[0,0.5],[-1,0,1],
[-0.5,0,0.5],[-0.2,0,0.2],[-2.5,0,2.5],[-1,0],
[-0.25,0,0.25],[-2.5,0,2.5],[-1,0,1],[-0.5,0,0.5],
[-1,0,1],[-0.5,0,0.5],[-0.5,0,0.5],[-0.5,0,0.5],
[-0.2,0,0.2],[-0.5,0],[0,0.5],[-0.25,0,0.25],
[-5,0,5],[-2,0,2],[-0.5,0,0.5],[-2.5,0,2.5],
[-0.5,0,0.5],[0,0.5],[-0.5,0],[-0.5,0,0.5],
[-1,0,1,2],[-0.2,0,0.2],[0,0.5],[-0.2,0,0.2],
[-0.2,0,0.2],[-0.25,0,0.25],[-0.2,0],[-0.25,0,0.25],
[-1,0,1],[-0.5,0,0.5],[-5,0,5],[-2,0,2],
[-0.2,0,0.2],[-2.5,0,2.5],[0,2],[-0.5,0,0.5],
[-0.5,0,0.5],[-0.25,0,0.25],[-0.5,-0.25,0],[-0.2,0,0.2],
[-0.25,0,0.25],[-0.25,0,0.25],[-0.2,0,0.2],[-0.5,0,0.5],
[-0.2,0,0.2],[-0.5,0,0.5],[-5,0,5],[-2,0,2],
[-0.5,0],[-0.2,0,0.2],[-0.2,0,0.2],[-0.2,0,0.2]
];

// ---- layout (matplotlib-like subplot grid) ----
const W = 2200, H = 2700;
const PT = 100 / 72;
const FONT = "DejaVu Sans";
const FS = 10 * PT;
const svg = d3.select("#c").attr("width", W).attr("height", H);
svg.append("rect").attr("width", W).attr("height", H).attr("fill", "#fff");
const L = 0.125 * W, R = 0.9 * W, T = (1 - 0.88) * H, B = (1 - 0.11) * H;
const nCol = 4, nRow = 16, ws = 0.2, hs = 0.2;
const axW = (R - L) / (nCol + (nCol - 1) * ws);
const axH = (B - T) / (nRow + (nRow - 1) * hs);
const xMax = d3.max(series, s => (s.length - 1) * STEP);

series.forEach((vals, k) => {
  const col = k % nCol, row = Math.floor(k / nCol);
  const x0 = L + col * axW * (1 + ws), y0 = T + row * axH * (1 + hs);
  const pts = vals.map((v, i) => ({ x: i * STEP, y: v * UNIT }));
  const ye = d3.extent(pts, d => d.y);
  const xp = xMax * 0.05, yp = (ye[1] - ye[0]) * 0.05;
  const x = d3.scaleLinear().domain([-xp, xMax + xp]).range([0, axW]);
  const y = d3.scaleLinear().domain([ye[0] - yp, ye[1] + yp]).range([axH, 0]);
  const yd = y.domain();
  const yt = yTicks[k].filter(t => t >= yd[0] && t <= yd[1]);
  const dec = d3.max(yTicks[k], t => (String(t).split(".")[1] || "").length);

  const g = svg.append("g").attr("transform", `translate(${x0},${y0})`);
  const grid = g.append("g").attr("stroke", "#b0b0b0").attr("stroke-width", 0.8 * PT);
  grid.selectAll("line.gx").data(xTicks).join("line").attr("class", "gx")
    .attr("x1", d => x(d)).attr("x2", d => x(d)).attr("y1", 0).attr("y2", axH);
  grid.selectAll("line.gy").data(yt).join("line").attr("class", "gy")
    .attr("y1", d => y(d)).attr("y2", d => y(d)).attr("x1", 0).attr("x2", axW);

  const cid = "clip" + k;
  g.append("clipPath").attr("id", cid).append("rect").attr("width", axW).attr("height", axH);
  g.append("path").datum(pts)
    .attr("clip-path", `url(#${cid})`)
    .attr("fill", "none").attr("stroke", colors[col])
    .attr("stroke-width", 1.5 * PT).attr("stroke-linejoin", "round")
    .attr("d", d3.line().x(d => x(d.x)).y(d => y(d.y)));

  g.append("rect").attr("width", axW).attr("height", axH)
    .attr("fill", "none").attr("stroke", "#000").attr("stroke-width", 0.8 * PT);

  const xa = g.append("g").attr("transform", `translate(0,${axH})`)
    .call(d3.axisBottom(x).tickValues(xTicks).tickFormat(d3.format("d"))
      .tickSize(3.5 * PT).tickPadding(3.5 * PT).tickSizeOuter(0));
  const ya = g.append("g")
    .call(d3.axisLeft(y).tickValues(yt).tickFormat(d3.format(`.${dec}f`))
      .tickSize(3.5 * PT).tickPadding(3.5 * PT).tickSizeOuter(0));
  [xa, ya].forEach(a => {
    a.select(".domain").remove();
    a.attr("font-family", FONT).attr("font-size", FS);
    a.selectAll("line").attr("stroke", "#000").attr("stroke-width", 0.8 * PT);
    a.selectAll("text").attr("fill", "#000");
  });
  const bb = ya.node().getBBox();
  g.append("text")
    .attr("transform", `translate(${bb.x - 4 * PT - FS * 0.236},${axH / 2}) rotate(-90)`)
    .attr("text-anchor", "middle").attr("font-family", FONT).attr("font-size", FS)
    .attr("fill", "#000").text(labels[k]);
});
</script></body></html>
